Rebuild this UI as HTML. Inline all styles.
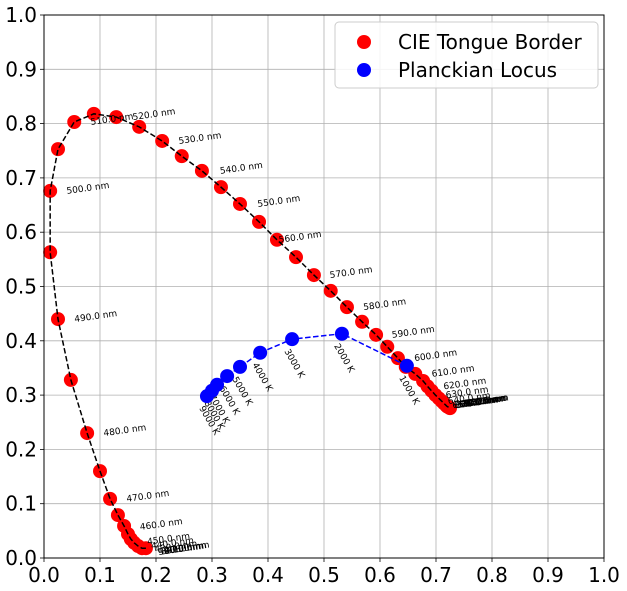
<!DOCTYPE html>
<html><head><meta charset="utf-8">
<style>
body{margin:0;background:#fff;}
svg{display:block;font-family:"DejaVu Sans","Liberation Sans",sans-serif;}
</style></head>
<body>
<svg id="chart" width="627" height="591" viewBox="0 0 627 591" xmlns="http://www.w3.org/2000/svg"></svg>
<script>
// ---- data ----
const waveNm = [440,445,450,455,460,465,470,475,480,485,490,495,500,505,510,515,520,525,530,535,540,545,550,555,560,565,570,575,580,585,590,595,600,605,610,615,620,625,630,635,640,645,650,655,660,670,680,690,700];
const tongueX = [0.182,0.175,0.168,0.161,0.155,0.150,0.143,0.132,0.118,0.100,0.077,0.048,0.025,0.011,0.011,0.025,0.054,0.089,0.129,0.170,0.211,0.246,0.282,0.316,0.350,0.384,0.416,0.450,0.482,0.512,0.541,0.568,0.593,0.613,0.632,0.646,0.663,0.677,0.685,0.692,0.699,0.705,0.710,0.714,0.718,0.720,0.722,0.724,0.725];
const tongueY = [0.018,0.018,0.022,0.028,0.035,0.044,0.059,0.079,0.109,0.160,0.230,0.328,0.440,0.563,0.676,0.753,0.803,0.818,0.812,0.794,0.768,0.740,0.713,0.683,0.652,0.619,0.586,0.554,0.521,0.492,0.462,0.435,0.411,0.389,0.368,0.352,0.339,0.326,0.316,0.308,0.300,0.294,0.289,0.285,0.281,0.279,0.278,0.277,0.276];
// wavelength labels (text, data x, data y)
const wlLabels = ["380.0 nm","390.0 nm","400.0 nm","410.0 nm","420.0 nm","430.0 nm","440.0 nm","450.0 nm","460.0 nm","470.0 nm","480.0 nm","490.0 nm","500.0 nm","510.0 nm","520.0 nm","530.0 nm","540.0 nm","550.0 nm","560.0 nm","570.0 nm","580.0 nm","590.0 nm","600.0 nm","610.0 nm","620.0 nm","630.0 nm","640.0 nm","650.0 nm","660.0 nm","670.0 nm","680.0 nm","690.0 nm","700.0 nm","720.0 nm","740.0 nm","760.0 nm","780.0 nm"];
const wlLabelX = [0.205,0.210,0.215,0.220,0.205,0.198,0.192,0.185,0.172,0.148,0.107,0.055,0.041,0.084,0.159,0.241,0.315,0.382,0.420,0.511,0.571,0.622,0.662,0.693,0.714,0.718,0.722,0.730,0.733,0.736,0.739,0.742,0.745,0.748,0.750,0.752,0.754];
const wlLabelY = [0.011,0.012,0.013,0.014,0.012,0.016,0.022,0.030,0.057,0.109,0.230,0.440,0.676,0.803,0.812,0.768,0.713,0.652,0.586,0.521,0.462,0.411,0.368,0.339,0.316,0.300,0.289,0.281,0.281,0.281,0.282,0.283,0.283,0.284,0.284,0.285,0.285];
const tempK = ["1000 K","2000 K","3000 K","4000 K","5000 K","6000 K","7000 K","8000 K","9000 K"];
const planckX = [0.648,0.532,0.443,0.386,0.350,0.327,0.309,0.300,0.291];
const planckY = [0.354,0.413,0.403,0.378,0.352,0.335,0.319,0.308,0.298];
const xTicks = ["0.0","0.1","0.2","0.3","0.4","0.5","0.6","0.7","0.8","0.9","1.0"];
const yTicks = ["0.0","0.1","0.2","0.3","0.4","0.5","0.6","0.7","0.8","0.9","1.0"];

// ---- axes ----
const L=44,R=604,T=15,B=558;
const sx=v=>L+v*(R-L), sy=v=>B-v*(B-T);
const svg=document.getElementById('chart');
const NS='http://www.w3.org/2000/svg';
function mk(tag,attrs,parent){const e=document.createElementNS(NS,tag);for(const k in attrs)e.setAttribute(k,attrs[k]);(parent||svg).appendChild(e);return e;}

xTicks.forEach((t,i)=>{
  const v=i/10,x=sx(v);
  const g=mk('line',{x1:x,x2:x,y1:T,y2:B,stroke:'#b0b0b0','stroke-width':0.8});
  
  
  const tk=mk('line',{x1:x,x2:x,y1:B,y2:B+4,stroke:'#000','stroke-width':0.8});
  
  
  const tx=mk('text',{x:x,y:B+24,'text-anchor':'middle','font-size':20,fill:'#000'});
  tx.textContent=t;
  
  
});
yTicks.forEach((t,i)=>{
  const v=i/10,y=sy(v);
  const g=mk('line',{x1:L,x2:R,y1:y,y2:y,stroke:'#b0b0b0','stroke-width':0.8});
  
  
  const tk=mk('line',{x1:L-4,x2:L,y1:y,y2:y,stroke:'#000','stroke-width':0.8});
  
  
  const tx=mk('text',{x:L-7,y:y+7,'text-anchor':'end','font-size':20,fill:'#000'});
  tx.textContent=t;
  
  
});

let d=tongueX.map((x,i)=>(i?'L':'M')+sx(x)+','+sy(tongueY[i])).join(' ');
tongueX.forEach((x,i)=>{
  const c=mk('circle',{cx:sx(x),cy:sy(tongueY[i]),r:7,fill:'#ff0000'});
  
  
});
const tl=mk('path',{d:d,fill:'none',stroke:'#000','stroke-width':1.5,'stroke-dasharray':'5.5,2.5'});



d=planckX.map((x,i)=>(i?'L':'M')+sx(x)+','+sy(planckY[i])).join(' ');
const pl=mk('path',{d:d,fill:'none',stroke:'#0000ff','stroke-width':1.5,'stroke-dasharray':'5.5,2.5'});


planckX.forEach((x,i)=>{
  const c=mk('circle',{cx:sx(x),cy:sy(planckY[i]),r:7,fill:'#0000ff'});
  
  
  const px=sx(x)-8,py=sy(planckY[i])+12;
  const t=mk('text',{x:px,y:py,'font-size':9,fill:'#000',transform:'rotate(60 '+px+' '+py+')'});
  t.textContent=tempK[i];
  
  
});

wlLabels.forEach((s,i)=>{
  const px=sx(wlLabelX[i]),py=sy(wlLabelY[i])+3;
  const t=mk('text',{x:px,y:py,'font-size':9,fill:'#000',transform:'rotate(-8 '+px+' '+py+')'});
  t.textContent=s;
  
  
});

const fr=mk('rect',{x:L,y:T,width:R-L,height:B-T,fill:'none',stroke:'#000','stroke-width':1});



const lg=mk('g',{});


mk('rect',{x:335,y:22,width:263,height:66,rx:4,fill:'#fff','fill-opacity':0.85,stroke:'#ccc'},lg);
const e1=mk('g',{},lg);


mk('circle',{cx:364,cy:42,r:7,fill:'#ff0000'},e1);
const t1=mk('text',{x:398,y:49,'font-size':20,fill:'#000'},e1);t1.textContent='CIE Tongue Border';
const e2=mk('g',{},lg);


mk('circle',{cx:364,cy:70,r:7,fill:'#0000ff'},e2);
const t2=mk('text',{x:398,y:77,'font-size':20,fill:'#000'},e2);t2.textContent='Planckian Locus';
</script>
</body></html>
